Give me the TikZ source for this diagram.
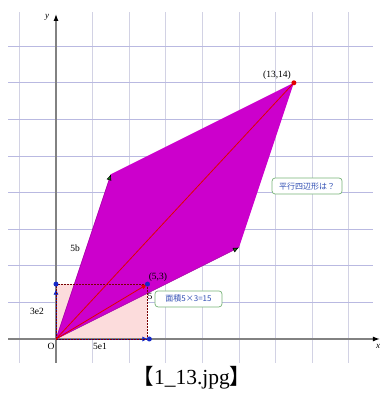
\documentclass[tikz,border=0pt]{standalone}
\usepackage{fontspec}
\setmainfont{Liberation Serif}
\newfontfamily\cjk{Noto Sans CJK JP}
\usetikzlibrary{arrows.meta,calc}
\definecolor{gridv}{RGB}{210,210,228}
\definecolor{gridh}{RGB}{185,185,225}
\definecolor{axisgray}{RGB}{130,130,130}
\definecolor{magfill}{RGB}{204,0,204}
\definecolor{pinkfill}{RGB}{252,220,220}
\definecolor{redline}{RGB}{225,0,0}
\definecolor{darkred}{RGB}{120,0,0}
\definecolor{boxgreen}{RGB}{120,180,120}
\definecolor{boxtext}{RGB}{50,80,180}
\definecolor{vecblue}{RGB}{20,40,200}
\definecolor{tipgreen}{RGB}{40,200,40}
\tikzset{
  vgrid/.style={draw=gridv, line width=0.8pt},
  hgrid/.style={draw=gridh, line width=0.8pt},
  axisline/.style={draw=axisgray, line width=1.2pt, -{Latex[length=7pt,width=5pt,color=black]}},
  edgevec/.style={draw=magfill!80!black, line width=0.6pt, -{Latex[length=6pt,width=5pt,color=black,fill=tipgreen!60!black]}},
  lbl/.style={font=\fontsize{9.5}{10}\selectfont, inner sep=1pt},
  infobox/.style={draw=boxgreen, rounded corners=3pt, fill=white, text=boxtext, line width=0.7pt,
    font=\cjk\fontsize{8}{9}\selectfont, inner sep=1.5pt, minimum height=16pt},
  dot/.style={circle, inner sep=0pt, minimum size=5pt},
}
\begin{document}
\begin{tikzpicture}[x=18.3pt,y=18.3pt]
\useasboundingbox (-3.060,-3.115) rectangle (17.923,18.525);
% grid
\foreach \x in {-2,2,4,...,16} \draw[vgrid] (\x,-1.31) -- (\x,17.87);
\foreach \y in {2,4,...,16} \draw[hgrid] (-2.62,\y) -- (17.3,\y);
% points
\coordinate (O) at (0,0);
\coordinate (A) at (10,5);
\coordinate (B) at (3,9);
\coordinate (C) at (13,14);
\coordinate (P) at (5,3);
\coordinate (E1) at (5,0);
\coordinate (E2) at (0,3);
\coordinate (E2b) at (0,2.7);
\coordinate (E1d) at (5.1,0);
\coordinate (xs) at (-2.62,0);
\coordinate (xe) at (17.7,0);
\coordinate (ys) at (0,-1.31);
\coordinate (ye) at (0,17.76);
% pink rectangle
\fill[pinkfill] (O) rectangle (P);
% axes
\draw[axisline] (xs) -- (xe);
\draw[axisline] (ys) -- (ye);
% blue vectors
\draw[vecblue, line width=0.6pt, -{Latex[length=5pt,width=5pt]}] (O) -- (E1);
\draw[vecblue, line width=0.6pt, -{Latex[length=5pt,width=5pt]}] (O) -- (E2b);
% parallelogram
\fill[magfill] (O) -- (A) -- (C) -- (B) -- cycle;
\draw[edgevec] (O) -- (A);
\draw[edgevec] (O) -- (B);
% dashed rectangle border
\draw[darkred, line width=0.7pt, dash pattern=on 2pt off 1pt] (O) -- (E1) -- (P) -- (E2) -- cycle;
% red vectors
\draw[redline, line width=0.8pt] (O) -- (C);
\draw[redline, line width=0.8pt, -{Latex[length=6pt,width=5pt]}] (O) -- (P);
% dots
\node[dot, fill=redline] (Cd) at (C) {};
\node[dot, fill=vecblue] (Pd) at (P) {};
\node[dot, fill=vecblue] (E2d) at (E2) {};
\node[dot, fill=vecblue] (E1dot) at (E1d) {};
% labels
\node[lbl] (lC) at (12.08,14.43) {(13,14)};
\node[lbl] (lP) at (5.57,3.39) {(5,3)};
\node[lbl] (l5b) at (1.04,4.97) {5b};
\node[lbl] (l3e2) at (-1.04,1.53) {3e2};
\node[lbl] (lO) at (-0.27,-0.38) {O};
\node[lbl] (l5e1) at (2.40,-0.38) {5e1};
\node[lbl] (l5) at (5.14,2.30) {5};
\node[lbl, font=\itshape\fontsize{9}{10}\selectfont] (ly) at (-0.49,17.6) {y};
\node[lbl, font=\itshape\fontsize{9}{10}\selectfont] (lx) at (17.6,-0.38) {x};
% boxes
\node[infobox, minimum width=67pt] (area) at (7.24,2.19) {面積5×3=15};
\node[infobox, minimum width=70pt] (q) at (13.72,8.36) {平行四辺形は？};
% caption
\node (cap) at (7.43,-2.13) {\fontsize{21.5}{24}\selectfont{\cjk 【}1\_13.jpg{\cjk 】}};
\end{tikzpicture}
\end{document}
